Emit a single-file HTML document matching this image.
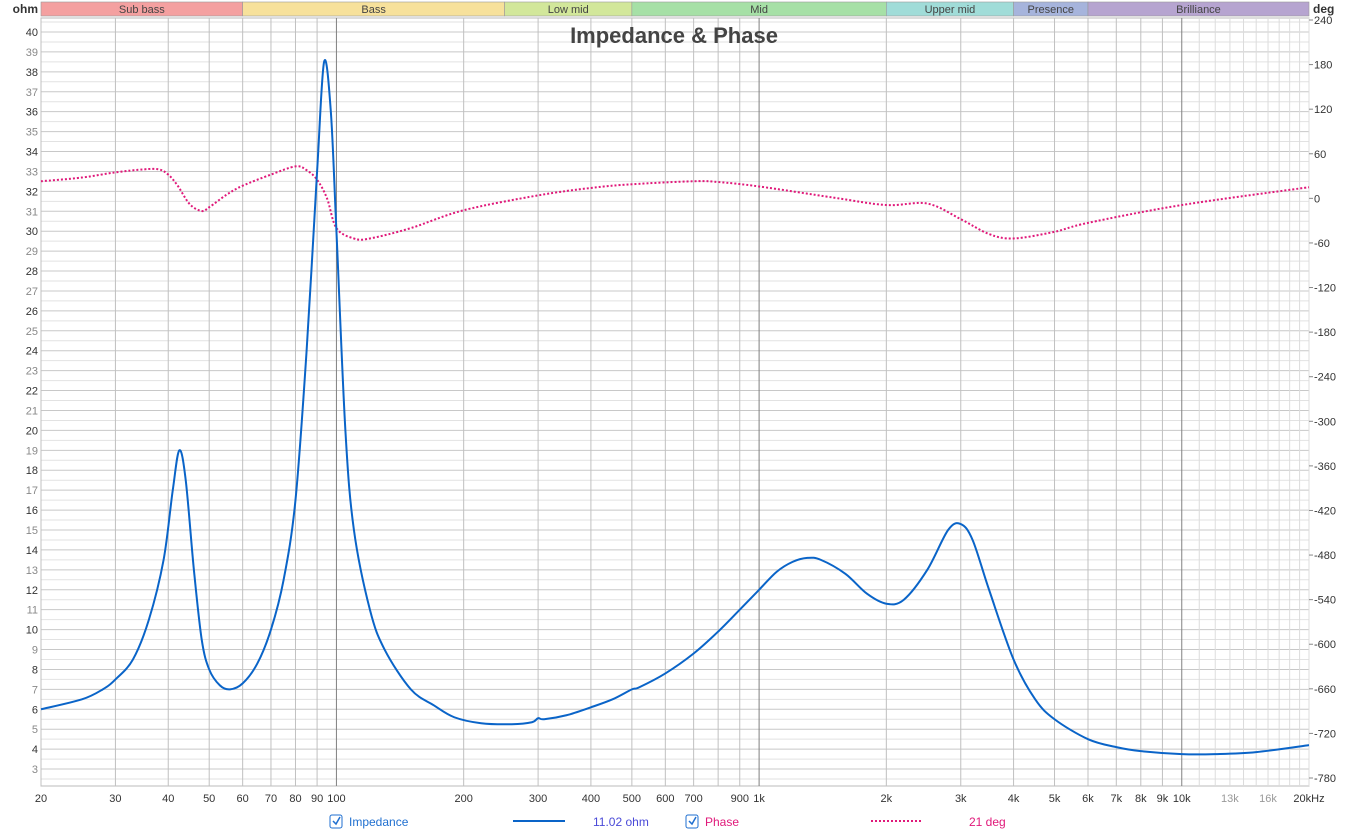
<!DOCTYPE html>
<html><head><meta charset="utf-8"><style>
html,body{margin:0;padding:0;background:#fff;}
svg{display:block;font-family:"Liberation Sans",sans-serif;}
</style></head><body>
<svg id="chart" width="1361" height="833" viewBox="0 0 1361 833">
<rect width="1361" height="833" fill="#fff"/>
<g id="bands"></g><g id="grid"></g><g id="labels"></g>
<text x="674" y="43" text-anchor="middle" font-size="22" font-weight="bold" fill="#444">Impedance &amp; Phase</text>
<g id="series"></g>
<text x="38" y="13" text-anchor="end" font-size="12" font-weight="bold" fill="#333">ohm</text>
<text x="1313" y="13" font-size="12" font-weight="bold" fill="#333">deg</text>
<g font-size="12">
 <g><rect x="330" y="815" width="12" height="13" rx="2" fill="#fff" stroke="#1f6fd0"/><path d="M333 821 l3 3 l4 -7" stroke="#1f6fd0" fill="none" stroke-width="1.5"/></g>
 <text x="349" y="826" fill="#1f6fd0">Impedance</text>
 <line x1="513" y1="821" x2="565" y2="821" stroke="#0a64c8" stroke-width="2"/>
 <text x="593" y="826" fill="#4a4ad8">11.02 ohm</text>
 <g><rect x="686" y="815" width="12" height="13" rx="2" fill="#fff" stroke="#1f6fd0"/><path d="M689 821 l3 3 l4 -7" stroke="#1f6fd0" fill="none" stroke-width="1.5"/></g>
 <text x="705" y="826" fill="#e0197a">Phase</text>
 <line x1="871" y1="821" x2="921" y2="821" stroke="#e0197a" stroke-width="2" stroke-dasharray="2,2"/>
 <text x="969" y="826" fill="#e0197a">21 deg</text>
</g>
</svg>
<script>
const impFreq=[20,25,28,30,33,36,39,41,42.5,44,46,48,50,53,56,60,65,70,75,80,85,90,93.5,97,100,105,110,120,130,150,170,190,220,260,290,300,310,350,400,450,500,520,600,700,800,900,1000,1100,1200,1300,1400,1600,1800,2000,2200,2500,2800,3000,3200,3500,4000,4500,5000,6000,7000,8000,10000,12000,15000,20000];
const impVals=[6.0,6.5,7.0,7.5,8.5,10.5,13.5,17,19,17.5,13,9.5,8,7.2,7.0,7.3,8.3,10,12.5,16.5,24,33,38.5,36,30,20,15,11,9,7,6.2,5.6,5.3,5.25,5.35,5.55,5.5,5.7,6.1,6.5,7.0,7.1,7.8,8.8,9.9,11,12,12.9,13.4,13.6,13.5,12.8,11.8,11.3,11.5,13,15,15.3,14.5,12,8.5,6.5,5.5,4.5,4.1,3.9,3.75,3.75,3.85,4.2];
const phFreq=[20,25,30,35,38,40,42,45,48,50,55,60,70,80,85,90,95,100,110,120,150,200,300,400,500,700,800,1000,1500,2000,2500,3000,3500,4000,5000,6000,10000,20000];
const phVals=[23,28,35,39,39,32,18,-8,-17,-12,5,17,32,43,38,25,0,-40,-54,-54,-40,-16,4,14,19,23,22,16,1,-9,-7,-28,-48,-54,-45,-33,-9,15];
const xTicks=[20,30,40,50,60,70,80,90,100,200,300,400,500,600,700,900,1000,2000,3000,4000,5000,6000,7000,8000,9000,10000,13000,16000];
const xLabels=["20","30","40","50","60","70","80","90","100","200","300","400","500","600","700","900","1k","2k","3k","4k","5k","6k","7k","8k","9k","10k","13k","16k"];
const degTicks=[240,180,120,60,0,-60,-120,-180,-240,-300,-360,-420,-480,-540,-600,-660,-720,-780];
const bandNames=["Sub bass","Bass","Low mid","Mid","Upper mid","Presence","Brilliance"];
const bandEdges=[20,60,250,500,2000,4000,6000,20000];
const bandColors=["#f4a0a0","#f7e19b","#d2e79a","#a6e0a6","#a0dcd8","#a6b4dc","#b6a4d0"];
const L=41,R=1309,T=18,B=786;
const X=f=>L+(Math.log10(f)-Math.log10(20))/3*(R-L);
const Y=v=>32+(40-v)*19.92;
const YD=d=>20+(240-d)*(758/1020);
const NS="http://www.w3.org/2000/svg";
function mk(p,t,a){const e=document.createElementNS(NS,t);for(const k in a)e.setAttribute(k,a[k]);p.appendChild(e);return e;}
const gb=document.getElementById('bands'),gg=document.getElementById('grid'),gl=document.getElementById('labels'),gs=document.getElementById('series');
for(let i=0;i<bandNames.length;i++){
 const x1=X(bandEdges[i]),x2=X(bandEdges[i+1]);
 const r=mk(gb,'rect',{x:x1,y:2,width:x2-x1,height:14,fill:bandColors[i],stroke:'#999','stroke-width':0.6});
 
 
 const t=mk(gb,'text',{x:(x1+x2)/2,y:13,'text-anchor':'middle','font-size':11,fill:'#444'});t.textContent=bandNames[i];
 
 
}
mk(gg,'rect',{x:L,y:T,width:R-L,height:B-T,fill:'none',stroke:'#bbb'});
for(let v=2.5;v<=40.5;v+=0.5){const y=Y(v);if(y<T||y>B)continue;
 mk(gg,'line',{x1:L,x2:R,y1:y,y2:y,stroke:Number.isInteger(v)?'#c8c8c8':'#e2e2e2','stroke-width':1});}
const minorF=[];for(let d of [10,100,1000,10000])for(let k=1;k<10;k++)minorF.push(d*k);
for(const f of minorF.concat([11000,12000,13000,14000,15000,16000,17000,18000,19000])){if(f<20||f>20000)continue;
 const x=X(f);const major=(f===100||f===1000||f===10000);const light=f>10000;
 mk(gg,'line',{x1:x,x2:x,y1:T,y2:B,stroke:major?'#808080':(light?'#dcdcdc':'#c0c0c0'),'stroke-width':1});}
for(let v=3;v<=40;v++){const t=mk(gl,'text',{x:38,y:Y(v)+4,'text-anchor':'end','font-size':11,fill:v%2===0?'#333':'#888'});t.textContent=v;
 
 }
for(const d of degTicks){const y=YD(d);mk(gl,'line',{x1:R,x2:R+4,y1:y,y2:y,stroke:'#888'});
 const t=mk(gl,'text',{x:R+5,y:y+4,'font-size':11,fill:'#333'});t.textContent=(d<0?'-':'')+Math.abs(d);
 
 }
xTicks.forEach((f,i)=>{const t=mk(gl,'text',{x:X(f),y:802,'text-anchor':'middle','font-size':11,fill:f>10000?'#999':'#333'});t.textContent=xLabels[i];
 
 });
const tz=mk(gl,'text',{x:1309,y:802,'text-anchor':'middle','font-size':11,fill:'#333'});tz.textContent='20kHz';


function path(fs,vs,fy){const p=fs.map((f,i)=>[X(f),fy(vs[i])]);let d='M'+p[0][0]+' '+p[0][1];
 for(let i=0;i<p.length-1;i++){const p0=p[i-1]||p[i],p1=p[i],p2=p[i+1],p3=p[i+2]||p2;
  const c1=[p1[0]+(p2[0]-p0[0])/6,p1[1]+(p2[1]-p0[1])/6],c2=[p2[0]-(p3[0]-p1[0])/6,p2[1]-(p3[1]-p1[1])/6];
  d+=` C${c1[0]} ${c1[1]} ${c2[0]} ${c2[1]} ${p2[0]} ${p2[1]}`;}return d;}
const ph=mk(gs,'path',{d:path(phFreq,phVals,YD),fill:'none',stroke:'#e0197a','stroke-width':2,'stroke-dasharray':'2,2'});


const im=mk(gs,'path',{d:path(impFreq,impVals,Y),fill:'none',stroke:'#0a64c8','stroke-width':2});


</script>
</body></html>
